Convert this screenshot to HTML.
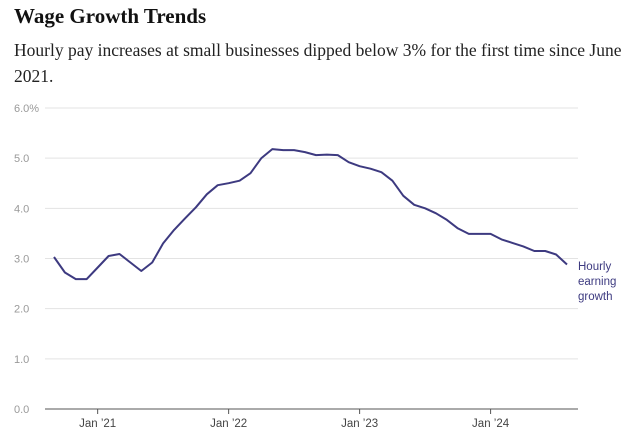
<!DOCTYPE html>
<html><head><meta charset="utf-8"><style>
body{margin:0;background:#fff;width:644px;height:448px;overflow:hidden;font-family:"Liberation Serif",serif}
#title{position:absolute;left:14px;top:4px;font-size:21px;font-weight:bold;color:#111}
#sub{position:absolute;left:14px;top:37px;width:625px;font-size:17.5px;line-height:26px;color:#222}
svg{position:absolute;left:0;top:0}
</style></head><body>
<div id="title">Wage Growth Trends</div>
<div id="sub">Hourly pay increases at small businesses dipped below 3% for the first time since June 2021.</div>
<svg id="c" width="644" height="448"></svg>
<script>
const values=[3.03,2.72,2.59,2.59,2.82,3.05,3.09,2.92,2.75,2.92,3.30,3.57,3.80,4.02,4.28,4.46,4.50,4.55,4.70,5.00,5.18,5.16,5.16,5.12,5.06,5.07,5.06,4.92,4.84,4.79,4.72,4.55,4.25,4.07,4.00,3.90,3.77,3.60,3.49,3.49,3.49,3.38,3.31,3.24,3.15,3.15,3.08,2.88];
const yTicks=[0,1,2,3,4,5,6];
const yLabels=["0.0","1.0","2.0","3.0","4.0","5.0","6.0%"];
const xTickIdx=[4,16,28,40];
const xLabels=["Jan \u201921","Jan \u201922","Jan \u201923","Jan \u201924"];
const NS="http://www.w3.org/2000/svg",svg=document.getElementById('c');
const x=i=>54+i*(513/47), y=v=>409-v*50.17;
function mk(t,a,txt){const e=document.createElementNS(NS,t);for(const k in a)e.setAttribute(k,a[k]);if(txt!=null)e.textContent=txt;svg.appendChild(e);return e;}
yTicks.forEach((v,i)=>{
 const g=mk('line',{x1:45,x2:578,y1:y(v),y2:y(v),stroke:v===0?'#555':'#e3e3e3','stroke-width':1});
 
 
 const t=mk('text',{x:14,y:y(v)+4,'font-size':11,fill:'#999','font-family':'Liberation Sans, sans-serif'},yLabels[i]);
 
 
});
xTickIdx.forEach((idx,i)=>{
 const tk=mk('line',{x1:x(idx),x2:x(idx),y1:409,y2:414,stroke:'#555'});
 
 
 const t=mk('text',{x:x(idx),y:427,'font-size':11.5,fill:'#444','text-anchor':'middle','font-family':'Liberation Sans, sans-serif'},xLabels[i]);
 
 
});
const p=mk('path',{d:values.map((v,i)=>(i?'L':'M')+x(i).toFixed(1)+','+y(v).toFixed(1)).join(''),fill:'none',stroke:'#3d3a80','stroke-width':2,'stroke-linejoin':'round'});


["Hourly","earning","growth"].forEach((w,i)=>{
 const t=mk('text',{x:578,y:270+i*15,'font-size':11.5,fill:'#3d3a80','font-family':'Liberation Sans, sans-serif'},w);
 
 
});
</script>
</body></html>
